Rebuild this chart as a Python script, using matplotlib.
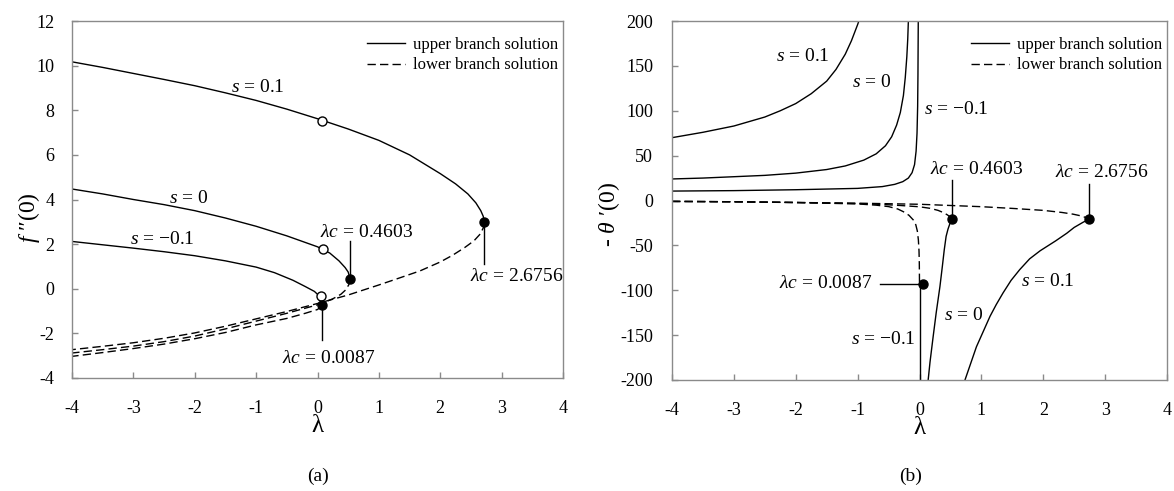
import matplotlib
matplotlib.use("Agg")
import matplotlib.pyplot as plt

plt.rcParams['font.family'] = ['Liberation Serif', 'DejaVu Serif']
plt.rcParams['mathtext.fontset'] = 'custom'
plt.rcParams['mathtext.rm'] = 'Liberation Serif'
plt.rcParams['mathtext.it'] = 'Liberation Serif:italic'
plt.rcParams['mathtext.bf'] = 'Liberation Serif:bold'

# ---------------- data: panel (a)  f''(0) vs lambda ----------------
a_s01_up_x = [-4, -3.5, -3, -2.5, -2, -1.5, -1, -0.5, 0, 0.5, 1, 1.5, 2, 2.25, 2.45, 2.58, 2.66, 2.70, 2.72]
a_s01_up_y = [10.17, 9.92, 9.65, 9.38, 9.1, 8.78, 8.44, 8.05, 7.62, 7.16, 6.65, 6.0, 5.16, 4.7, 4.25, 3.85, 3.5, 3.25, 2.97]
a_s01_lo_x = [2.72, 2.70, 2.65, 2.55, 2.4, 2.2, 2.0, 1.67, 1.3, 1.0, 0.5, 0.0, -0.5, -1, -1.5, -2, -2.5, -3, -3.5, -4]
a_s01_lo_y = [2.97, 2.72, 2.45, 2.15, 1.85, 1.5, 1.2, 0.8, 0.45, 0.17, -0.28, -0.66, -1.02, -1.35, -1.68, -1.98, -2.22, -2.42, -2.58, -2.73]

a_s0_up_x = [-4, -3.5, -3, -2.5, -2, -1.5, -1, -0.5, 0, 0.2, 0.35, 0.45, 0.5, 0.53]
a_s0_up_y = [4.47, 4.25, 4.0, 3.77, 3.5, 3.17, 2.8, 2.37, 1.88, 1.6, 1.25, 0.95, 0.75, 0.45]
a_s0_lo_x = [0.53, 0.51, 0.46, 0.38, 0.25, 0.1, 0.0, -0.5, -1, -1.5, -2, -2.5, -3, -3.5, -4]
a_s0_lo_y = [0.45, 0.18, -0.05, -0.25, -0.45, -0.62, -0.72, -1.1, -1.45, -1.8, -2.12, -2.37, -2.57, -2.73, -2.88]

a_sm01_up_x = [-4, -3.5, -3, -2.5, -2, -1.5, -1, -0.7, -0.4, -0.2, -0.05, 0.02, 0.055, 0.068]
a_sm01_up_y = [2.12, 1.97, 1.82, 1.66, 1.48, 1.25, 0.97, 0.72, 0.38, 0.1, -0.12, -0.3, -0.5, -0.72]
a_sm01_lo_x = [0.068, 0.04, 0.0, -0.2, -0.5, -1, -1.5, -2, -2.5, -3, -3.5, -4]
a_sm01_lo_y = [-0.72, -0.84, -0.93, -1.1, -1.33, -1.62, -1.96, -2.24, -2.48, -2.68, -2.86, -3.03]

a_crit_x = [2.72, 0.53, 0.068]
a_crit_y = [2.97, 0.45, -0.72]
a_open_x = [0.07, 0.095, 0.057]
a_open_y = [7.5, 1.8, -0.31]

# ---------------- data: panel (b)  -theta'(0) vs lambda ----------------
b_s01_up_x = [-4, -3.5, -3, -2.5, -2.25, -2, -1.75, -1.5, -1.35, -1.2, -1.1, -1.0, -0.98]
b_s01_up_y = [70, 76, 83, 93, 100, 108, 119, 133, 146, 163, 178, 196, 200]
b_s01_up2_x = [2.744, 2.65, 2.5, 2.38, 2.2, 1.95, 1.78, 1.62, 1.48, 1.35, 1.24, 1.14, 1.03, 0.92, 0.83, 0.735]
b_s01_up2_y = [-21, -24, -30, -36.5, -45, -56, -65, -77, -89, -103, -116, -129, -146, -163, -181, -200]
b_s01_lo_x = [-4, -3, -2, -1, 0, 1, 1.5, 2, 2.3, 2.48, 2.6, 2.69, 2.744]
b_s01_lo_y = [-1.0, -1.4, -2.2, -3.0, -4.2, -6.9, -8.8, -11, -13.3, -15.2, -17, -19, -21]

b_s0_up_x = [-4, -3.5, -3, -2.5, -2, -1.5, -1.2, -0.9, -0.7, -0.55, -0.45, -0.37, -0.31, -0.26, -0.23, -0.205, -0.19, -0.18]
b_s0_up_y = [24, 25, 26.5, 28, 30.5, 34.5, 38.5, 45, 52, 61, 71, 84, 98, 117, 137, 160, 180, 200]
b_s0_up2_x = [0.52, 0.49, 0.46, 0.43, 0.40, 0.37, 0.33, 0.27, 0.22, 0.17, 0.14]
b_s0_up2_y = [-21, -26, -32, -40, -55, -73, -96, -125, -152, -180, -200]
b_s0_lo_x = [-4, -3, -2, -1, -0.6, -0.3, 0.0, 0.17, 0.3, 0.39, 0.45, 0.5, 0.52]
b_s0_lo_y = [-1.0, -1.4, -2.2, -3.4, -4.4, -5.6, -7.0, -8.7, -11, -13.6, -16, -18.5, -21]

b_sm01_up_x = [-4, -3, -2, -1, -0.6, -0.4, -0.27, -0.18, -0.12, -0.08, -0.055, -0.04, -0.03, -0.025, -0.02]
b_sm01_up_y = [10.5, 11, 12, 13.5, 15.5, 18, 21, 25, 31, 40, 55, 75, 105, 140, 200]
b_sm01_up2_x = [0.005, 0.005]
b_sm01_up2_y = [-93, -200]
b_sm01_lo_x = [-4, -3, -2, -1, -0.7, -0.5, -0.35, -0.26, -0.17, -0.1, -0.06, -0.035, -0.018, -0.008, -0.003, 0.0]
b_sm01_lo_y = [-1.0, -1.4, -2.3, -3.8, -5.2, -6.8, -9.5, -12.5, -16.5, -21.7, -27, -34, -44, -56, -70, -93]

b_crit_x = [2.744, 0.52, 0.06]
b_crit_y = [-21, -21, -93]

a_xticks = [-4, -3, -2, -1, 0, 1, 2, 3, 4]
a_yticks = [-4, -2, 0, 2, 4, 6, 8, 10, 12]
b_xticks = [-4, -3, -2, -1, 0, 1, 2, 3, 4]
b_yticks = [-200, -150, -100, -50, 0, 50, 100, 150, 200]

crit_labels = ["0.4603", "2.6756", "0.0087"]
legend_labels = ["upper branch solution", "lower branch solution"]

# ---------------- figure ----------------
W, H = 1174, 491
fig = plt.figure(figsize=(W / 100, H / 100), dpi=100)

def rect(x0, y0, x1, y1):
    return [x0 / W, 1 - y1 / H, (x1 - x0) / W, (y1 - y0) / H]

axA = fig.add_axes(rect(72, 21, 563, 378))
axB = fig.add_axes(rect(672, 21, 1167, 380))

LW = 1.0
DASH = (6, 3)
spine_c = '#8a8a8a'

def style(ax, xt, yt, ylim, ypad):
    ax.set_xlim(-4, 4)
    ax.set_ylim(*ylim)
    ax.set_xticks(xt)
    ax.set_yticks(yt)
    ax.set_xticklabels([str(v) for v in xt])
    ax.set_yticklabels([str(v) for v in yt])
    for sp in ax.spines.values():
        sp.set_color(spine_c)
        sp.set_linewidth(1.0)
    ax.tick_params(direction='in', length=4, width=1.0, color=spine_c, labelsize=13)
    ax.tick_params(axis='x', pad=15.5)
    ax.tick_params(axis='y', pad=ypad)
    ax.set_xlabel('λ', fontsize=18, labelpad=-1)

def solid(ax, x, y):
    ax.plot(x, y, color='black', lw=LW)

def dashed(ax, x, y):
    ax.plot(x, y, color='black', lw=LW, dashes=DASH)

# ----- panel (a) -----
style(axA, a_xticks, a_yticks, (-4, 12), 12.5)
solid(axA, a_s01_up_x, a_s01_up_y)
dashed(axA, a_s01_lo_x, a_s01_lo_y)
solid(axA, a_s0_up_x, a_s0_up_y)
dashed(axA, a_s0_lo_x, a_s0_lo_y)
solid(axA, a_sm01_up_x, a_sm01_up_y)
dashed(axA, a_sm01_lo_x, a_sm01_lo_y)

# leader lines
axA.plot([a_crit_x[1], a_crit_x[1]], [2.12, a_crit_y[1]], color='black', lw=LW)
axA.plot([a_crit_x[0], a_crit_x[0]], [a_crit_y[0], 1.13], color='black', lw=LW)
axA.plot([a_crit_x[2], a_crit_x[2]], [a_crit_y[2], -2.28], color='black', lw=LW)

axA.plot(a_open_x, a_open_y, 'o', ls='none', ms=6.5, mfc='white', mec='black', mew=1.0, zorder=5)
axA.plot(a_crit_x, a_crit_y, 'o', ls='none', ms=6.5, color='black', zorder=5)

tk = dict(fontsize=14, ha='center', va='center')
axA.text(-0.97, 9.0, '$s$ = 0.1', **tk)
axA.text(-2.1, 4.04, '$s$ = 0', **tk)
axA.text(-2.53, 2.2, '$s$ = \u22120.1', **tk)
axA.text(0.8, 2.5, r'$\lambda c$ = ' + crit_labels[0], **tk)
axA.text(3.24, 0.54, r'$\lambda c$ = ' + crit_labels[1], **tk)
axA.text(0.19, -3.12, r'$\lambda c$ = ' + crit_labels[2], **tk)

axA.set_ylabel('$f$ \u2033(0)', fontsize=17)
axA.yaxis.set_label_coords(-0.062, 0.45)

# ----- panel (b) -----
style(axB, b_xticks, b_yticks, (-200, 200), 13.5)
solid(axB, b_s01_up_x, b_s01_up_y)
solid(axB, b_s01_up2_x, b_s01_up2_y)
dashed(axB, b_s01_lo_x, b_s01_lo_y)
solid(axB, b_s0_up_x, b_s0_up_y)
solid(axB, b_s0_up2_x, b_s0_up2_y)
dashed(axB, b_s0_lo_x, b_s0_lo_y)
solid(axB, b_sm01_up_x, b_sm01_up_y)
solid(axB, b_sm01_up2_x, b_sm01_up2_y)
dashed(axB, b_sm01_lo_x, b_sm01_lo_y)

axB.plot([b_crit_x[1], b_crit_x[1]], [22.8, b_crit_y[1]], color='black', lw=LW)
axB.plot([b_crit_x[0], b_crit_x[0]], [18.4, b_crit_y[0]], color='black', lw=LW)
axB.plot([-0.64, b_crit_x[2]], [b_crit_y[2], b_crit_y[2]], color='black', lw=LW)
axB.plot(b_crit_x, b_crit_y, 'o', ls='none', ms=6.5, color='black', zorder=5)

axB.text(-1.88, 160, '$s$ = 0.1', **tk)
axB.text(-0.77, 132, '$s$ = 0', **tk)
axB.text(0.6, 101, '$s$ = \u22120.1', **tk)
axB.text(-0.585, -155, '$s$ = \u22120.1', **tk)
axB.text(0.71, -128, '$s$ = 0', **tk)
axB.text(2.08, -90, '$s$ = 0.1', **tk)
axB.text(0.93, 34.5, r'$\lambda c$ = ' + crit_labels[0], **tk)
axB.text(2.94, 31.6, r'$\lambda c$ = ' + crit_labels[1], **tk)
axB.text(-0.77, -93, r'$\lambda c$ = ' + crit_labels[2], fontsize=14, ha='right', va='center')

axB.set_ylabel('- $\\theta$ \u2032(0)', fontsize=17)
axB.yaxis.set_label_coords(-0.1, 0.46)

# legends
for ax in (axA, axB):
    h1, = ax.plot([], [], color='black', lw=LW)
    h2, = ax.plot([], [], color='black', lw=LW, dashes=DASH)
    ax.legend([h1, h2], legend_labels, loc='upper right', bbox_to_anchor=(1.012, 0.985),
              frameon=False, fontsize=12, handlelength=2.3, handletextpad=0.45,
              labelspacing=0.25, borderaxespad=0.35, borderpad=0.3)

fig.text(318 / W, 1 - 476 / H, '(a)', fontsize=14, ha='center', va='center')
fig.text(911 / W, 1 - 476 / H, '(b)', fontsize=14, ha='center', va='center')

fig.savefig('out.png', dpi=100)
